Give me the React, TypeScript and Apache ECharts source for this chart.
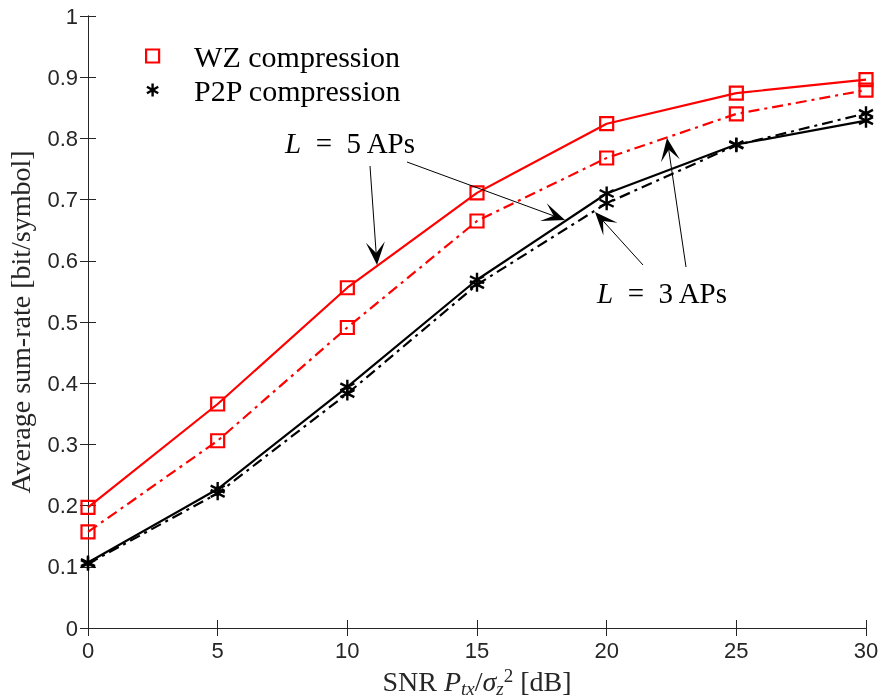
import React, { useEffect, useRef } from "react";
import * as echarts from "echarts";

const snr = [0, 5, 10, 15, 20, 25, 30];
const wzL5 = [0.197, 0.366, 0.556, 0.711, 0.824, 0.874, 0.896];
const wzL3 = [0.157, 0.306, 0.491, 0.665, 0.768, 0.84, 0.879];
const p2pL5 = [0.107, 0.227, 0.394, 0.569, 0.71, 0.79, 0.829];
const p2pL3 = [0.105, 0.22, 0.383, 0.561, 0.694, 0.789, 0.841];
const legendNames = ["WZ compression", "P2P compression"];

const SERIF = "'Liberation Serif', 'DejaVu Serif', serif";
const SANS = "'Liberation Sans', Arial, sans-serif";
const AXIS = "#262626";
const STAR = "path://M7,0 L7,14 M0.94,3.5 L13.06,10.5 M0.94,10.5 L13.06,3.5";

function arrow(x1: number, y1: number, x2: number, y2: number) {
  const dx = x2 - x1, dy = y2 - y1;
  const len = Math.hypot(dx, dy);
  const ux = dx / len, uy = dy / len;
  const px = -uy, py = ux;
  const L = 23, N = 12, W = 9.5;
  const nx = x2 - ux * N, ny = y2 - uy * N;
  return [
    { type: "line", shape: { x1, y1, x2: nx, y2: ny }, style: { stroke: "#000", lineWidth: 1 }, z: 50 },
    {
      type: "polygon",
      shape: {
        points: [
          [x2, y2],
          [x2 - ux * L + px * W, y2 - uy * L + py * W],
          [nx, ny],
          [x2 - ux * L - px * W, y2 - uy * L - py * W],
        ],
      },
      style: { fill: "#000" },
      z: 50,
    },
  ];
}

function mkSeries(name: string, data: number[], color: string, dashed: boolean, star: boolean) {
  return {
    name,
    type: "line",
    data: snr.map((x, i) => [x, data[i]]),
    symbol: star ? STAR : "rect",
    symbolSize: star ? 14 : 13,
    showSymbol: true,
    itemStyle: star
      ? { color: color, borderColor: color, borderWidth: 2.4 }
      : { color: "rgba(0,0,0,0)", borderColor: color, borderWidth: 2.2 },
    lineStyle: { color, width: 2.2, type: dashed ? [11, 5, 3, 5] : "solid" },
    emphasis: { disabled: true },
    z: 3,
  };
}

export default function App() {
  const ref = useRef<HTMLDivElement>(null);
  useEffect(() => {
    if (!ref.current) return;
    const chart = echarts.init(ref.current, undefined, { renderer: "svg" });
    const textL = (x: number, y: number, n: string) => ({
      type: "text",
      left: x,
      top: y,
      z: 60,
      style: {
        text: `{i|L}\u2002=\u2002${n} APs`,
        fontFamily: SERIF,
        fontSize: 29,
        fill: "#000",
        rich: {
          i: { fontFamily: SERIF, fontSize: 29, fontStyle: "italic", fill: "#000" },
        },
      },
    });
    chart.setOption({
      animation: false,
      grid: { left: 88, right: 14, top: 16, bottom: 70, containLabel: false, outerBoundsMode: "none" },
      legend: {
        orient: "vertical",
        left: 145,
        top: 41,
        padding: 0,
        itemWidth: 13,
        itemHeight: 13,
        itemGap: 4,
        selectedMode: false,
        textStyle: { fontFamily: SERIF, fontSize: 30, color: "#000", padding: [0, 0, 0, 30] },
        data: [
          {
            name: legendNames[0],
            icon: "rect",
            itemStyle: { color: "rgba(0,0,0,0)", borderColor: "#ff0000", borderWidth: 2.2 },
          },
          {
            name: legendNames[1],
            icon: STAR,
            itemStyle: { color: "#000", borderColor: "#000", borderWidth: 2.4 },
          },
        ],
      },
      xAxis: [
        {
          type: "value",
          min: 0,
          max: 30,
          interval: 5,
          position: "bottom",
          axisLine: { show: true, lineStyle: { color: AXIS, width: 1 } },
          axisTick: { show: true, inside: true, length: 8, lineStyle: { color: AXIS } },
          splitLine: { show: false },
          axisLabel: { fontFamily: SANS, fontSize: 22, color: AXIS, margin: 11 },
          name: "{n|SNR }{i|P}{sub|tx}{n|/}{i|σ}{sub|z}{sup|2}{n| [dB]}",
          nameLocation: "middle",
          nameGap: 28,
          nameTextStyle: {
            fontFamily: SERIF,
            fontSize: 28,
            color: AXIS,
            rich: {
              n: { fontFamily: SERIF, fontSize: 28, color: AXIS, lineHeight: 32 },
              i: { fontFamily: SERIF, fontSize: 28, fontStyle: "italic", color: AXIS, lineHeight: 32 },
              sub: { fontFamily: SERIF, fontSize: 19, fontStyle: "italic", color: AXIS, verticalAlign: "bottom", lineHeight: 19 },
              sup: { fontFamily: SERIF, fontSize: 19, color: AXIS, verticalAlign: "top", lineHeight: 19 },
            },
          },
        },
        {
          type: "value",
          min: 0,
          max: 30,
          interval: 5,
          position: "top",
          axisLine: { show: true, lineStyle: { color: AXIS, width: 1 } },
          axisTick: { show: true, inside: true, length: 8, lineStyle: { color: AXIS } },
          splitLine: { show: false },
          axisLabel: { show: false },
        },
      ],
      yAxis: [
        {
          type: "value",
          min: 0,
          max: 1,
          interval: 0.1,
          position: "left",
          axisLine: { show: true, lineStyle: { color: AXIS, width: 1 } },
          axisTick: { show: true, inside: true, length: 8, lineStyle: { color: AXIS } },
          splitLine: { show: false },
          axisLabel: {
            fontFamily: SANS,
            fontSize: 22,
            color: AXIS,
            margin: 10,
            formatter: (v: number) => String(+v.toFixed(1)),
          },
          name: "Average sum-rate [bit/symbol]",
          nameLocation: "middle",
          nameGap: 54,
          nameTextStyle: { fontFamily: SERIF, fontSize: 28, color: AXIS },
        },
        {
          type: "value",
          min: 0,
          max: 1,
          interval: 0.1,
          position: "right",
          axisLine: { show: true, lineStyle: { color: AXIS, width: 1 } },
          axisTick: { show: true, inside: true, length: 8, lineStyle: { color: AXIS } },
          splitLine: { show: false },
          axisLabel: { show: false },
        },
      ],
      series: [
        mkSeries(legendNames[0], wzL5, "#ff0000", false, false),
        mkSeries(legendNames[0], wzL3, "#ff0000", true, false),
        mkSeries(legendNames[1], p2pL5, "#000000", false, true),
        mkSeries(legendNames[1], p2pL3, "#000000", true, true),
      ],
      graphic: [
        textL(285, 128, "5"),
        textL(597, 278, "3"),
        ...arrow(370, 166, 377, 265),
        ...arrow(407, 162, 565, 220),
        ...arrow(643, 265, 595, 212),
        ...arrow(686, 267, 667, 138),
      ],
    });
    return () => chart.dispose();
  }, []);
  return <div ref={ref} style={{ position: "fixed", left: 0, top: 0, width: 880, height: 698 }} />;
}
